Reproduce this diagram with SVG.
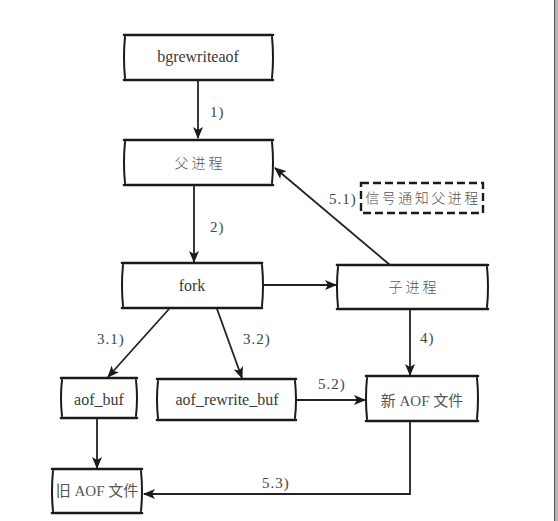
<svg xmlns="http://www.w3.org/2000/svg" width="558" height="521" viewBox="0 0 558 521">
<style>
.h{fill:none;stroke:#1a1a1a;stroke-width:2.6;stroke-linecap:round}
.v{fill:none;stroke:#1a1a1a;stroke-width:2;stroke-linecap:round}
.dash{fill:none;stroke:#1a1a1a;stroke-width:2.4;stroke-dasharray:8 4}
.t{font-family:"Liberation Serif","Noto Sans CJK SC",serif;font-size:16px;fill:#3a3a3a;text-anchor:middle}
.c{font-family:"Noto Sans CJK SC",sans-serif;font-size:14px;fill:#555;text-anchor:middle;letter-spacing:3px;font-weight:300}
.m{font-family:"Liberation Serif","Noto Sans CJK SC",serif;font-size:15px;fill:#555;text-anchor:middle}
.lbl{font-family:"Liberation Serif",serif;font-size:15px;fill:#444;letter-spacing:1px}
.e{fill:none;stroke:#222;stroke-width:1.8}
</style>
<defs>
<marker id="ah" viewBox="0 0 12 10" refX="11" refY="5" markerWidth="12" markerHeight="10" markerUnits="userSpaceOnUse" orient="auto">
<path d="M0,0 L12,5 L0,10 L3,5 z" fill="#1a1a1a"/>
</marker>
</defs>
<rect x="0" y="0" width="558" height="521" fill="#fff"/>
<line x1="554.5" y1="0" x2="554.5" y2="521" stroke="#555" stroke-width="1"/>
<rect x="555" y="0" width="3" height="521" fill="#b4b4b4"/>

<g id="bgrewriteaof">
<path class="h" d="M124,35 H273 M124,80 H273"/>
<path class="v" d="M125,37 Q123,57 125,78 M272,37 Q274,57 272,78"/>
<text class="t" x="198" y="62">bgrewriteaof</text>
</g>
<g id="parent">
<path class="h" d="M124,140 H273 M124,185 H273"/>
<path class="v" d="M125,142 Q123,162 125,183 M272,142 Q274,162 272,183"/>
<text class="c" x="200" y="168">父进程</text>
</g>
<g id="fork">
<path class="h" d="M122,263 H262 M122,308 H262"/>
<path class="v" d="M123,265 Q121,285 123,306 M262,265 Q264,285 262,306"/>
<text class="t" x="192" y="291">fork</text>
</g>
<g id="child">
<path class="h" d="M337,265 H488 M337,309 H488"/>
<path class="v" d="M338,267 Q336,287 338,307 M487,267 Q489,287 487,307"/>
<text class="c" x="414" y="292">子进程</text>
</g>
<g id="signal">
<path class="dash" d="M361,183 H483 V213 H361 Z"/>
<text class="c" x="423" y="203" style="letter-spacing:2.5px">信号通知父进程</text>
</g>
<g id="aof_buf">
<path class="h" d="M61,378 H137 M61,418 H137"/>
<path class="v" d="M62,380 Q60,398 62,416 M136,380 Q138,398 136,416"/>
<text class="t" x="99" y="405">aof_buf</text>
</g>
<g id="aof_rewrite_buf">
<path class="h" d="M157,379 H296 M157,420 H296"/>
<path class="v" d="M158,381 Q156,400 158,418 M295,381 Q297,400 295,418"/>
<text class="t" x="227" y="405">aof_rewrite_buf</text>
</g>
<g id="new_aof">
<path class="h" d="M366,376 H478 M366,421 H478"/>
<path class="v" d="M367,378 Q365,398 367,419 M477,378 Q479,398 477,419"/>
<text class="m" x="422" y="406">新 AOF 文件</text>
</g>
<g id="old_aof">
<path class="h" d="M52,469 H142 M52,513 H142"/>
<path class="v" d="M53,471 Q51,491 53,511 M141,471 Q143,491 141,511"/>
<text class="m" x="97" y="496">旧 AOF 文件</text>
</g>

<g id="connectors">
<line class="e" x1="198" y1="81" x2="198" y2="138" marker-end="url(#ah)"/>
<line class="e" x1="194" y1="186" x2="194" y2="262" marker-end="url(#ah)"/>
<line class="e" x1="263" y1="285" x2="336" y2="285" marker-end="url(#ah)"/>
<line class="e" x1="390" y1="265" x2="275" y2="168" marker-end="url(#ah)"/>
<line class="e" x1="169" y1="309" x2="108" y2="377" marker-end="url(#ah)"/>
<line class="e" x1="217" y1="309" x2="242" y2="378" marker-end="url(#ah)"/>
<line class="e" x1="410" y1="310" x2="410" y2="375" marker-end="url(#ah)"/>
<line class="e" x1="297" y1="400" x2="365" y2="400" marker-end="url(#ah)"/>
<polyline class="e" points="410,422 410,494 144,494" marker-end="url(#ah)"/>
<line class="e" x1="97" y1="419" x2="97" y2="468" marker-end="url(#ah)"/>
<text class="lbl" x="210" y="117">1)</text>
<text class="lbl" x="210" y="232">2)</text>
<text class="lbl" x="97" y="344">3.1)</text>
<text class="lbl" x="243" y="344">3.2)</text>
<text class="lbl" x="420" y="343">4)</text>
<text class="lbl" x="329" y="204">5.1)</text>
<text class="lbl" x="318" y="389">5.2)</text>
<text class="lbl" x="262" y="488">5.3)</text>
</g>
</svg>
